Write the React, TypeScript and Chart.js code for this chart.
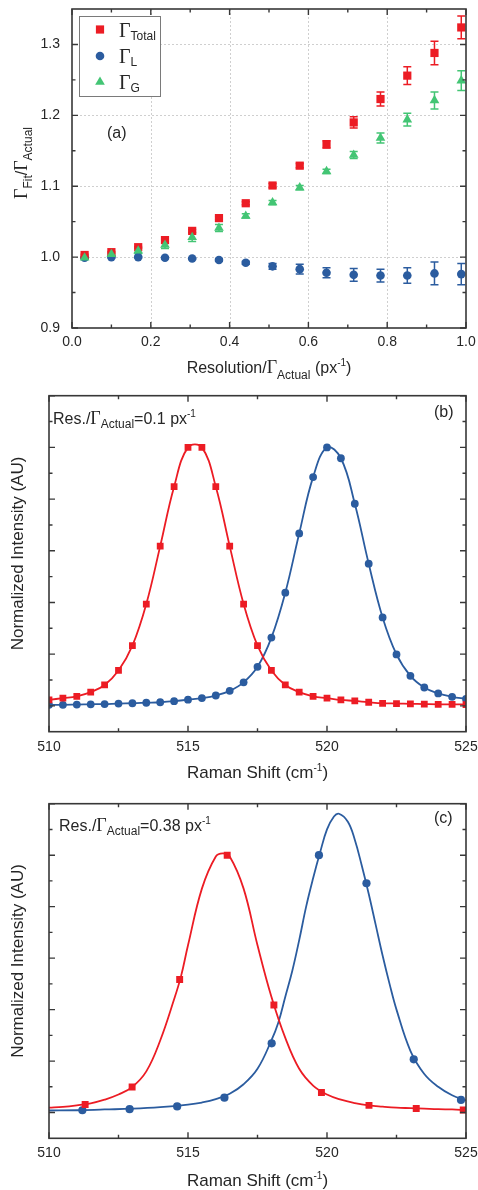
import React, { useEffect, useRef } from 'react';
import { Chart, registerables } from 'chart.js';

Chart.register(...registerables);

const SANS = '"Liberation Sans", Arial, sans-serif';
const SERIF = '"Liberation Serif", "Times New Roman", serif';
const RED = '#ec1c24';
const BLUE = '#2b5c9f';
const GREEN = '#43c574';
const INK = '#262626';
const FRAME = '#383838';

// ---------------- panel (a) data ----------------
const resRatio = [0.032, 0.1, 0.168, 0.236, 0.305, 0.373, 0.441, 0.509, 0.578, 0.646, 0.715, 0.783, 0.851, 0.92, 0.988];
const gammaTotal = [1.003, 1.007, 1.014, 1.024, 1.037, 1.055, 1.076, 1.101, 1.129, 1.159, 1.19, 1.223, 1.256, 1.288, 1.324];
const gammaTotalErr = [0.001, 0.001, 0.001, 0.002, 0.002, 0.002, 0.002, 0.003, 0.003, 0.005, 0.008, 0.01, 0.0125, 0.0165, 0.016];
const gammaL = [0.999, 1.0, 1.0, 0.999, 0.998, 0.996, 0.992, 0.987, 0.983, 0.978, 0.975, 0.974, 0.974, 0.977, 0.976];
const gammaLErr = [0.001, 0.001, 0.001, 0.001, 0.001, 0.002, 0.002, 0.004, 0.007, 0.007, 0.009, 0.009, 0.011, 0.016, 0.015];
const gammaG = [0.999, 1.004, 1.009, 1.017, 1.028, 1.041, 1.058, 1.077, 1.098, 1.121, 1.144, 1.168, 1.194, 1.221, 1.249];
const gammaGErr = [0.001, 0.001, 0.004, 0.005, 0.006, 0.005, 0.003, 0.003, 0.003, 0.003, 0.005, 0.007, 0.009, 0.012, 0.014];

const aXMajor = [0, 0.2, 0.4, 0.6, 0.8, 1.0];
const aXMinor = [0.1, 0.3, 0.5, 0.7, 0.9];
const aYMajor = [0.9, 1.0, 1.1, 1.2, 1.3];
const aYMinor = [0.95, 1.05, 1.15, 1.25];

// ---------------- panel (b) data ----------------
const shiftB = [510, 510.5, 511, 511.5, 512, 512.5, 513, 513.5, 514, 514.5, 515, 515.5, 516, 516.5, 517, 517.5, 518, 518.5, 519, 519.5, 520, 520.5, 521, 521.5, 522, 522.5, 523, 523.5, 524, 524.5, 525];
const redB = [0.023, 0.03, 0.037, 0.053, 0.081, 0.137, 0.233, 0.394, 0.618, 0.848, 1.0, 1.0, 0.848, 0.618, 0.394, 0.233, 0.137, 0.081, 0.053, 0.037, 0.03, 0.023, 0.019, 0.014, 0.01, 0.009, 0.008, 0.007, 0.006, 0.006, 0.005];
const blueB = [0.004, 0.004, 0.005, 0.006, 0.007, 0.009, 0.01, 0.012, 0.014, 0.018, 0.024, 0.03, 0.04, 0.058, 0.091, 0.151, 0.264, 0.438, 0.667, 0.885, 1.0, 0.958, 0.782, 0.55, 0.342, 0.199, 0.116, 0.071, 0.048, 0.035, 0.027];

// ---------------- panel (c) data ----------------
const shiftCRed = [511.3, 512.99, 514.7, 516.41, 518.09, 519.8, 521.51, 523.21, 524.9];
const redC = [0.031, 0.099, 0.517, 1.0, 0.418, 0.078, 0.028, 0.016, 0.01];
const shiftCBlue = [511.2, 512.9, 514.61, 516.31, 518.01, 519.71, 521.42, 523.12, 524.82];
const blueC = [0.009, 0.013, 0.024, 0.058, 0.269, 1.0, 0.891, 0.207, 0.049];
// fitted curves
const fitRedCX = [510, 510.5, 511, 511.5, 512, 512.5, 513, 513.5, 514, 514.5, 514.75, 515, 515.5, 516, 516.25, 516.5, 517, 517.5, 518, 518.5, 519, 519.5, 520, 520.5, 521, 521.5, 522, 522.5, 523, 523.5, 524, 524.5, 525];
const fitRedCY = [0.019, 0.022, 0.028, 0.036, 0.05, 0.07, 0.1, 0.16, 0.28, 0.44, 0.53, 0.65, 0.87, 0.995, 1.007, 0.995, 0.87, 0.65, 0.45, 0.29, 0.17, 0.105, 0.07, 0.05, 0.037, 0.028, 0.023, 0.019, 0.017, 0.015, 0.013, 0.012, 0.01];
const fitBlueCX = [510, 511, 512, 513, 514, 515, 515.5, 516, 516.5, 517, 517.5, 518, 518.25, 518.5, 518.75, 519, 519.25, 519.5, 519.75, 520, 520.25, 520.43, 520.75, 521, 521.25, 521.5, 521.75, 522, 522.25, 522.5, 523, 523.5, 524, 524.5, 525];
const fitBlueCY = [0.008, 0.009, 0.012, 0.015, 0.021, 0.031, 0.039, 0.052, 0.073, 0.11, 0.17, 0.28, 0.35, 0.45, 0.55, 0.67, 0.8, 0.91, 1.01, 1.1, 1.15, 1.161, 1.13, 1.06, 0.96, 0.85, 0.73, 0.61, 0.5, 0.4, 0.24, 0.15, 0.1, 0.067, 0.047];

const sXMajor = [510, 515, 520, 525];
const sXMinor = [512.5, 517.5, 522.5];
const sYMajor = [0, 0.2, 0.4, 0.6, 0.8, 1.0, 1.2];
const sYMinor = [0.1, 0.3, 0.5, 0.7, 0.9, 1.1];

// ---------------- helpers ----------------
type Seg = { t: string; f: string; dy?: number };
const sans = (px: number) => `${px}px ${SANS}`;
const serif = (px: number) => `${px}px ${SERIF}`;

function richWidth(ctx: CanvasRenderingContext2D, segs: Seg[]) {
  let w = 0;
  for (const s of segs) {
    ctx.font = s.f;
    w += ctx.measureText(s.t).width;
  }
  return w;
}

function drawRich(ctx: CanvasRenderingContext2D, segs: Seg[], x: number, y: number, align: 'left' | 'center', rotate = false) {
  ctx.save();
  ctx.translate(x, y);
  if (rotate) ctx.rotate(-Math.PI / 2);
  const w = richWidth(ctx, segs);
  let cx = align === 'center' ? -w / 2 : 0;
  ctx.textBaseline = 'alphabetic';
  ctx.textAlign = 'left';
  ctx.fillStyle = INK;
  for (const s of segs) {
    ctx.font = s.f;
    ctx.fillText(s.t, cx, s.dy || 0);
    cx += ctx.measureText(s.t).width;
  }
  ctx.restore();
}

function drawFrameTicks(chart: any, xMaj: number[], xMin: number[], yMaj: number[], yMin: number[]) {
  const { ctx, chartArea: a, scales } = chart;
  const xs = scales.x;
  const ys = scales.y;
  ctx.save();
  ctx.strokeStyle = FRAME;
  ctx.lineWidth = 1.4;
  ctx.beginPath();
  const xt = (vals: number[], len: number) => {
    for (const v of vals) {
      const p = xs.getPixelForValue(v);
      ctx.moveTo(p, a.bottom);
      ctx.lineTo(p, a.bottom - len);
      ctx.moveTo(p, a.top);
      ctx.lineTo(p, a.top + len);
    }
  };
  const yt = (vals: number[], len: number) => {
    for (const v of vals) {
      const p = ys.getPixelForValue(v);
      ctx.moveTo(a.left, p);
      ctx.lineTo(a.left + len, p);
      ctx.moveTo(a.right, p);
      ctx.lineTo(a.right - len, p);
    }
  };
  xt(xMaj, 6);
  xt(xMin, 3.5);
  yt(yMaj, 6);
  yt(yMin, 3.5);
  ctx.stroke();
  ctx.lineWidth = 1.6;
  ctx.strokeRect(a.left, a.top, a.right - a.left, a.bottom - a.top);
  ctx.restore();
}

function marker(ctx: CanvasRenderingContext2D, style: string, x: number, y: number, r: number, color: string) {
  ctx.fillStyle = color;
  ctx.beginPath();
  if (style === 'rect') {
    const s = r * Math.SQRT1_2;
    ctx.rect(x - s, y - s, 2 * s, 2 * s);
  } else if (style === 'circle') {
    ctx.arc(x, y, r, 0, Math.PI * 2);
  } else {
    ctx.moveTo(x, y - r);
    ctx.lineTo(x + 0.866 * r, y + 0.5 * r);
    ctx.lineTo(x - 0.866 * r, y + 0.5 * r);
    ctx.closePath();
  }
  ctx.fill();
}

function errBars(chart: any, xv: number[], yv: number[], ev: number[], color: string) {
  const { ctx, scales } = chart;
  const x = scales.x;
  const y = scales.y;
  ctx.save();
  ctx.strokeStyle = color;
  ctx.lineWidth = 1.5;
  ctx.beginPath();
  xv.forEach((xx, i) => {
    const px = x.getPixelForValue(xx);
    const t = y.getPixelForValue(yv[i] + ev[i]);
    const b = y.getPixelForValue(yv[i] - ev[i]);
    ctx.moveTo(px, t);
    ctx.lineTo(px, b);
    ctx.moveTo(px - 4, t);
    ctx.lineTo(px + 4, t);
    ctx.moveTo(px - 4, b);
    ctx.lineTo(px + 4, b);
  });
  ctx.stroke();
  ctx.restore();
}

function xScale(min: number, max: number, ticks: number[], fmt: (v: number) => string, height: number, pad: number) {
  return {
    type: 'linear',
    position: 'bottom',
    min,
    max,
    afterBuildTicks: (s: any) => {
      s.ticks = ticks.map((v) => ({ value: v }));
    },
    afterFit: (s: any) => {
      s.height = height;
      s.paddingLeft = 0;
      s.paddingRight = 0;
    },
    grid: { display: false, drawTicks: false },
    border: { display: false },
    ticks: {
      padding: pad,
      color: INK,
      font: { family: SANS, size: 14 },
      maxRotation: 0,
      autoSkip: false,
      callback: (v: any) => fmt(Number(v)),
    },
  };
}

function yScale(min: number, max: number, ticks: number[], width: number, show: boolean, pad: number) {
  return {
    type: 'linear',
    position: 'left',
    min,
    max,
    afterBuildTicks: (s: any) => {
      s.ticks = ticks.map((v) => ({ value: v }));
    },
    afterFit: (s: any) => {
      s.width = width;
      s.paddingTop = 0;
      s.paddingBottom = 0;
    },
    grid: { display: false, drawTicks: false },
    border: { display: false },
    ticks: {
      display: show,
      padding: pad,
      color: INK,
      font: { family: SANS, size: 14 },
      autoSkip: false,
      callback: (v: any) => Number(v).toFixed(1),
    },
  };
}

const pts = (xs: number[], ys: number[]) => xs.map((x, i) => ({ x, y: ys[i] }));

// ---------------- chart configs ----------------
function configA(): any {
  const deco = {
    id: 'decoA',
    beforeDatasetsDraw(chart: any) {
      const { ctx, chartArea: a, scales } = chart;
      ctx.save();
      ctx.strokeStyle = '#cfcfcf';
      ctx.lineWidth = 1;
      ctx.setLineDash([2, 2]);
      ctx.beginPath();
      for (const v of aXMajor) {
        if (v <= 0 || v >= 1) continue;
        const p = Math.round(scales.x.getPixelForValue(v)) + 0.5;
        ctx.moveTo(p, a.top);
        ctx.lineTo(p, a.bottom);
      }
      for (const v of aYMajor) {
        if (v <= 0.9) continue;
        const p = Math.round(scales.y.getPixelForValue(v)) + 0.5;
        ctx.moveTo(a.left, p);
        ctx.lineTo(a.right, p);
      }
      ctx.stroke();
      ctx.restore();
      errBars(chart, resRatio, gammaL, gammaLErr, BLUE);
      errBars(chart, resRatio, gammaTotal, gammaTotalErr, RED);
      errBars(chart, resRatio, gammaG, gammaGErr, GREEN);
    },
    afterDraw(chart: any) {
      const { ctx } = chart;
      drawFrameTicks(chart, aXMajor, aXMinor, aYMajor, aYMinor);
      // legend
      ctx.save();
      ctx.fillStyle = '#ffffff';
      ctx.fillRect(79, 16, 82, 81);
      ctx.strokeStyle = '#7a7a7a';
      ctx.lineWidth = 1;
      ctx.strokeRect(79.5, 16.5, 81, 80);
      ctx.restore();
      marker(ctx, 'rect', 100, 29.5, 5.8, RED);
      marker(ctx, 'circle', 100, 56, 4.3, BLUE);
      marker(ctx, 'triangle', 100, 82, 5.6, GREEN);
      drawRich(ctx, [{ t: 'Γ', f: serif(20) }, { t: 'Total', f: sans(12), dy: 3 }], 119, 37, 'left');
      drawRich(ctx, [{ t: 'Γ', f: serif(20) }, { t: 'L', f: sans(12), dy: 3 }], 119, 63, 'left');
      drawRich(ctx, [{ t: 'Γ', f: serif(20) }, { t: 'G', f: sans(12), dy: 3 }], 119, 89, 'left');
      // panel label
      drawRich(ctx, [{ t: '(a)', f: sans(16) }], 107, 138, 'left');
      // axis titles
      drawRich(
        ctx,
        [
          { t: 'Resolution/', f: sans(16) },
          { t: 'Γ', f: serif(18) },
          { t: 'Actual', f: sans(12), dy: 6 },
          { t: ' (px', f: sans(16) },
          { t: '-1', f: sans(10), dy: -7 },
          { t: ')', f: sans(16) },
        ],
        269,
        373,
        'center'
      );
      drawRich(
        ctx,
        [
          { t: 'Γ', f: serif(18) },
          { t: 'Fit', f: sans(12), dy: 5 },
          { t: '/', f: sans(16) },
          { t: 'Γ', f: serif(18) },
          { t: 'Actual', f: sans(12), dy: 5 },
        ],
        27,
        163,
        'center',
        true
      );
    },
  };
  const ds = (label: string, ys: number[], color: string, style: string, r: number, order: number) => ({
    label,
    data: pts(resRatio, ys),
    backgroundColor: color,
    borderColor: color,
    pointStyle: style,
    pointRadius: r,
    pointBorderWidth: 0,
    showLine: false,
    order,
  });
  return {
    type: 'scatter',
    data: {
      datasets: [
        ds('Total', gammaTotal, RED, 'rect', 5.8, 1),
        ds('L', gammaL, BLUE, 'circle', 4.3, 2),
        ds('G', gammaG, GREEN, 'triangle', 5.6, 0),
      ],
    },
    options: {
      animation: false,
      responsive: false,
      devicePixelRatio: 1,
      layout: { padding: { left: 0, right: 12, top: 9, bottom: 0 }, autoPadding: false },
      plugins: { legend: { display: false }, tooltip: { enabled: false } },
      scales: {
        x: xScale(0, 1, aXMajor, (v) => v.toFixed(1), 62, 6),
        y: yScale(0.9, 1.35, aYMajor, 72, true, 12),
      },
    },
    plugins: [deco],
  };
}

function configSpectrum(which: 'b' | 'c', topPad: number, axisH: number, canvasTop: number): any {
  const isB = which === 'b';
  const deco = {
    id: 'deco' + which,
    afterDraw(chart: any) {
      const { ctx } = chart;
      drawFrameTicks(chart, sXMajor, sXMinor, sYMajor, sYMinor);
      const annY = (isB ? 424.3 : 830.7) - canvasTop;
      drawRich(
        ctx,
        [
          { t: 'Res./', f: sans(16) },
          { t: 'Γ', f: serif(18) },
          { t: 'Actual', f: sans(12), dy: 4 },
          { t: isB ? '=0.1 px' : '=0.38 px', f: sans(16) },
          { t: '-1', f: sans(10), dy: -7 },
        ],
        isB ? 53 : 59,
        annY,
        'left'
      );
      drawRich(ctx, [{ t: isB ? '(b)' : '(c)', f: sans(16) }], 434, (isB ? 417 : 823) - canvasTop, 'left');
      drawRich(
        ctx,
        [
          { t: 'Raman Shift (cm', f: sans(17) },
          { t: '-1', f: sans(10), dy: -7 },
          { t: ')', f: sans(17) },
        ],
        257.5,
        (isB ? 778 : 1186) - canvasTop,
        'center'
      );
      drawRich(ctx, [{ t: 'Normalized Intensity (AU)', f: sans(17) }], 23, (isB ? 553.5 : 961) - canvasTop, 'center', true);
    },
  };
  const datasets: any[] = [];
  if (isB) {
    datasets.push({
      label: 'red',
      data: pts(shiftB, redB),
      showLine: true,
      tension: 0.4,
      borderColor: RED,
      backgroundColor: RED,
      borderWidth: 1.8,
      pointStyle: 'rect',
      pointRadius: 4.8,
      pointBorderWidth: 0,
      order: 0,
    });
    datasets.push({
      label: 'blue',
      data: pts(shiftB, blueB),
      showLine: true,
      tension: 0.4,
      borderColor: BLUE,
      backgroundColor: BLUE,
      borderWidth: 1.8,
      pointStyle: 'circle',
      pointRadius: 3.9,
      pointBorderWidth: 0,
      order: 1,
    });
  } else {
    const line = (data: any, color: string, order: number) => ({
      label: 'fit',
      data,
      showLine: true,
      tension: 0.4,
      borderColor: color,
      backgroundColor: color,
      borderWidth: 1.8,
      pointRadius: 0,
      order,
    });
    const dots = (data: any, color: string, style: string, r: number, order: number) => ({
      label: 'pts',
      data,
      showLine: false,
      borderColor: color,
      backgroundColor: color,
      pointStyle: style,
      pointRadius: r,
      pointBorderWidth: 0,
      order,
    });
    datasets.push(dots(pts(shiftCRed, redC), RED, 'rect', 4.9, 0));
    datasets.push(dots(pts(shiftCBlue, blueC), BLUE, 'circle', 4.1, 1));
    datasets.push(line(pts(fitRedCX, fitRedCY), RED, 2));
    datasets.push(line(pts(fitBlueCX, fitBlueCY), BLUE, 3));
  }
  return {
    type: 'scatter',
    data: { datasets },
    options: {
      animation: false,
      responsive: false,
      devicePixelRatio: 1,
      layout: { padding: { left: 0, right: 12, top: topPad, bottom: 0 }, autoPadding: false },
      plugins: { legend: { display: false }, tooltip: { enabled: false } },
      scales: {
        x: xScale(510, 525, sXMajor, (v) => String(Math.round(v)), axisH, isB ? 7 : 6),
        y: yScale(-0.1, 1.2, sYMajor, 49, false, 4),
      },
    },
    plugins: [deco],
  };
}

function ChartCanvas({ top, height, make }: { top: number; height: number; make: () => any }) {
  const ref = useRef<HTMLCanvasElement>(null);
  useEffect(() => {
    const chart = new Chart(ref.current as HTMLCanvasElement, make());
    return () => chart.destroy();
  }, []);
  return (
    <canvas
      ref={ref}
      width={478}
      height={height}
      style={{ position: 'absolute', left: 0, top, width: 478, height }}
    />
  );
}

export default function App() {
  return (
    <div style={{ position: 'absolute', left: 0, top: 0, width: 478, height: 1190, background: '#fff' }}>
      <ChartCanvas top={0} height={390} make={configA} />
      <ChartCanvas top={390} height={400} make={() => configSpectrum('b', 5.7, 58.3, 390)} />
      <ChartCanvas top={790} height={400} make={() => configSpectrum('c', 13.7, 51.7, 790)} />
    </div>
  );
}
